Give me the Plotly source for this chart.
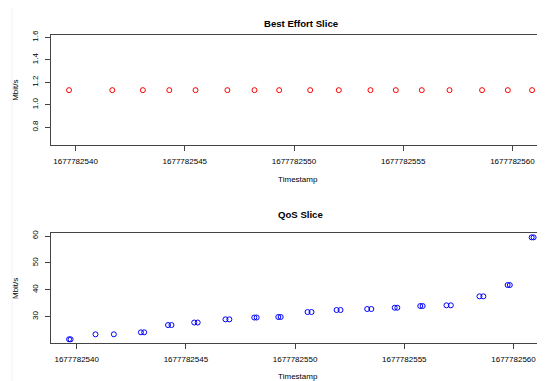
import plotly.graph_objects as go

# browser body margin offsets the figure by 8px; layout in window pixels
OFF = 8
WIN_W, WIN_H = 545, 381
W, H = WIN_W - OFF, WIN_H - OFF

# Best Effort Slice (timestamps, Mbit/s)
be_time = [1677782539.70, 1677782541.68, 1677782543.08, 1677782544.29, 1677782545.49,
           1677782546.95, 1677782548.19, 1677782549.32, 1677782550.74, 1677782552.05,
           1677782553.50, 1677782554.66, 1677782555.85, 1677782557.12, 1677782558.61,
           1677782559.79, 1677782560.90]
be_rate = [1.13] * 17

# QoS Slice (timestamps, Mbit/s)
qos_time = [1677782539.65, 1677782539.72, 1677782540.86, 1677782541.70,
            1677782542.94, 1677782543.09, 1677782544.18, 1677782544.34,
            1677782545.38, 1677782545.54, 1677782546.81, 1677782546.99,
            1677782548.13, 1677782548.24, 1677782549.23, 1677782549.34,
            1677782550.57, 1677782550.75, 1677782551.90, 1677782552.08,
            1677782553.30, 1677782553.49, 1677782554.56, 1677782554.68,
            1677782555.73, 1677782555.84, 1677782556.93, 1677782557.13,
            1677782558.44, 1677782558.62, 1677782559.73, 1677782559.83,
            1677782560.83, 1677782560.92]
qos_rate = [21.6, 21.6, 23.46, 23.46,
            24.2, 24.2, 26.9, 26.9,
            27.84, 27.84, 29.03, 29.03,
            29.7, 29.7, 29.9, 29.9,
            31.75, 31.75, 32.5, 32.5,
            32.86, 32.86, 33.35, 33.35,
            33.98, 33.98, 34.24, 34.24,
            37.58, 37.58, 41.78, 41.78,
            59.5, 59.5]

x_ticks = [1677782540, 1677782545, 1677782550, 1677782555, 1677782560]
be_yticks = [0.8, 1.0, 1.2, 1.4, 1.6]
qos_yticks = [30, 40, 50, 60]

FONT = "Liberation Sans, Arial, Helvetica, sans-serif"
AX = "#444444"

def px_x(wx):
    return (wx - OFF) / W

def px_y(wy):
    return 1 - (wy - OFF) / H

fig = go.Figure()
fig.add_trace(go.Scatter(x=be_time, y=be_rate, mode="markers", xaxis="x", yaxis="y",
                         marker=dict(symbol="circle-open", size=5, color="red",
                                     line=dict(width=1, color="red")),
                         showlegend=False))
fig.add_trace(go.Scatter(x=qos_time, y=qos_rate, mode="markers", xaxis="x2", yaxis="y2",
                         marker=dict(symbol="circle-open", size=5, color="blue",
                                     line=dict(width=1, color="blue")),
                         showlegend=False))

xdom = [px_x(50.5), 1.0]
top_dom = [px_y(145.0), px_y(35.3)]
bot_dom = [px_y(343.4), px_y(233.3)]
pxs = 21.84
span = (WIN_W - 50.5) / pxs

def xaxis(dom_anchor, lo):
    return dict(domain=xdom, anchor=dom_anchor, range=[lo, lo + span], automargin=False,
                tickvals=x_ticks, ticktext=[str(v) for v in x_ticks],
                showgrid=False, zeroline=False, showline=True, linecolor=AX, linewidth=1,
                mirror=True, ticks="outside", ticklen=5, tickcolor=AX, tickwidth=1,
                ticklabelstandoff=3,
                tickfont=dict(size=8, color="black", family=FONT),
                title=dict(text="Timestamp", font=dict(size=8, color="black", family=FONT),
                           standoff=11))

def yaxis(dom, anchor, rng, ticks):
    return dict(domain=dom, anchor=anchor, range=rng, tickvals=ticks, automargin=False,
                ticktext=[(f"{t:.1f}" if isinstance(t, float) else str(t)) for t in ticks],
                tickangle=-90, ticklabelstandoff=3,
                showgrid=False, zeroline=False, showline=True, linecolor=AX, linewidth=1,
                mirror=False, ticks="outside", ticklen=5, tickcolor=AX, tickwidth=1,
                tickfont=dict(size=8, color="black", family=FONT),
                title=dict(text="Mbit/s", font=dict(size=8, color="black", family=FONT),
                           standoff=11))

fig.update_layout(
    width=W, height=H,
    margin=dict(l=0, r=0, t=0, b=0, autoexpand=False),
    paper_bgcolor="white", plot_bgcolor="white",
    font=dict(family=FONT, size=8, color="black"),
    xaxis=xaxis("y", 1677782538.85),
    yaxis=yaxis(top_dom, "x", [0.642, 1.618], be_yticks),
    xaxis2=xaxis("y2", 1677782538.80),
    yaxis2=yaxis(bot_dom, "x2", [20.08, 61.02], qos_yticks),
    annotations=[
        dict(text="<b>Best Effort Slice</b>", x=px_x(300.5), y=px_y(16.0), xref="paper", yref="paper",
             showarrow=False, font=dict(size=9.6, color="black", family=FONT)),
        dict(text="<b>QoS Slice</b>", x=px_x(300.5), y=px_y(214.0), xref="paper", yref="paper",
             showarrow=False, font=dict(size=9.6, color="black", family=FONT)),
    ],
    shapes=[dict(type="line", xref="paper", yref="paper", x0=px_x(12), x1=px_x(12), y0=0, y1=1,
                 line=dict(color="#f2f2f2", width=1))],
)

fig.write_html("out.html")
